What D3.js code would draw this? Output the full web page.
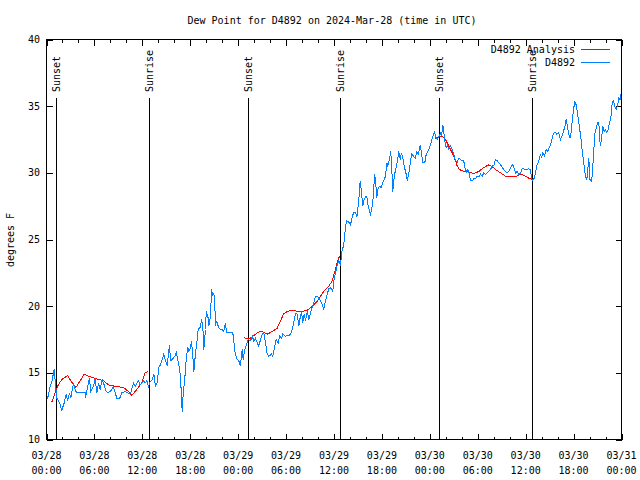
<!DOCTYPE html>
<html><head><meta charset="utf-8">
<script src="https://cdn.jsdelivr.net/npm/d3@7"></script>
<style>
body{margin:0;background:#fff}
svg text{font-family:"DejaVu Sans Mono","Liberation Mono",monospace;font-size:10px;fill:#000}
</style>
</head><body>
<svg id="chart" width="640" height="480"></svg>
<script>
// ---- data (hours after 2024-03-28 00:00 UTC, dew point in F) ----
const obsHours = [0.13,0.46,0.69,0.96,1.13,1.29,1.63,1.92,2.22,2.47,2.63,2.88,3.04,3.38,3.59,3.76,4.26,4.85,4.88,5.17,5.38,5.55,5.89,6.10,6.30,6.51,6.72,6.97,7.22,7.48,7.76,8.18,8.39,8.80,9.14,9.43,9.85,10.27,10.56,10.89,11.11,11.52,11.73,12.15,12.36,12.56,12.77,12.96,13.24,13.44,13.65,13.86,14.06,14.28,14.49,14.69,14.90,15.11,15.31,15.40,15.53,15.74,16.07,16.24,16.44,16.57,16.78,16.91,16.99,17.12,17.32,17.49,17.69,17.82,18.03,18.16,18.32,18.45,18.66,18.87,19.00,19.28,19.41,19.57,19.70,19.91,20.00,20.25,20.32,20.54,20.66,20.82,20.95,21.08,21.16,21.29,21.50,21.66,22.00,22.20,22.41,22.54,23.04,23.33,23.45,23.58,23.79,24.08,24.26,24.38,24.51,24.63,24.83,25.04,25.26,25.55,25.76,25.96,26.17,26.38,26.58,26.80,27.01,27.21,27.42,27.64,27.84,28.17,28.34,28.59,28.76,29.01,29.21,29.43,29.59,29.93,30.34,30.55,30.77,30.97,31.18,31.39,31.59,31.72,31.93,32.09,32.27,32.43,32.65,32.85,33.06,33.27,33.47,33.68,33.90,34.10,34.31,34.52,34.72,34.94,35.15,35.35,35.56,35.69,35.85,35.98,36.19,36.40,36.60,36.81,37.03,37.19,37.32,37.44,37.60,37.85,38.07,38.28,38.48,38.69,38.86,38.98,39.11,39.28,39.41,39.61,39.78,39.95,40.11,40.28,40.45,40.57,40.79,40.95,41.07,41.20,41.36,41.49,41.70,41.91,42.11,42.33,42.45,42.61,42.74,42.95,43.11,43.24,43.36,43.49,43.66,43.86,43.99,44.11,44.29,44.45,44.62,44.83,45.04,45.17,45.29,45.46,45.58,45.74,45.96,46.17,46.37,46.58,46.80,46.96,47.12,47.37,47.55,47.75,47.96,48.17,48.37,48.59,48.80,48.92,49.12,49.34,49.46,49.63,49.75,49.88,50.05,50.21,50.38,50.59,50.80,51.00,51.22,51.43,51.63,51.84,52.05,52.25,52.38,52.56,52.72,52.88,53.09,53.31,53.51,53.72,53.93,54.13,54.35,54.56,54.76,54.97,55.19,55.39,55.60,55.81,56.01,56.22,56.44,56.64,56.85,57.06,57.26,57.48,57.69,57.89,58.10,58.23,58.39,58.57,58.74,58.95,59.15,59.36,59.57,59.77,59.98,60.40,60.61,60.73,60.90,61.07,61.23,61.40,61.65,61.86,61.98,62.15,62.36,62.57,62.77,62.99,63.20,63.33,63.49,63.74,63.90,64.15,64.36,64.53,64.74,64.95,65.08,65.20,65.40,65.58,65.70,65.83,66.03,66.15,66.33,66.45,66.62,66.74,66.96,67.08,67.24,67.37,67.49,67.66,67.78,67.91,68.03,68.21,68.33,68.50,68.66,68.84,69.04,69.16,69.34,69.50,69.66,69.84,70.00,70.16,70.34,70.50,70.66,70.84,71.00,71.16,71.33,71.50,71.66,71.84,71.96];
const obsValues = [13.05,14.0,14.4,15.25,14.1,13.1,12.75,12.2,12.75,13.4,12.9,13.5,13.1,14.25,13.75,13.5,13.5,13.5,13.1,14.0,14.6,13.6,14.0,14.6,13.5,14.25,13.75,14.5,14.1,13.6,13.5,13.75,13.95,13.1,13.05,13.5,13.6,13.45,13.5,14.25,14.0,14.4,14.1,14.4,14.25,14.4,14.0,14.3,14.5,14.9,14.0,14.25,15.4,15.6,16.0,16.4,15.9,15.55,16.6,17.1,15.9,16.0,16.25,16.55,16.0,15.6,14.75,13.0,12.1,13.5,14.6,16.0,16.9,16.6,16.9,17.4,16.25,15.1,16.5,17.5,18.3,18.4,19.0,18.5,16.75,18.25,19.6,19.1,18.5,19.25,21.25,20.75,21.0,20.0,18.5,18.9,18.5,18.3,18.25,18.1,18.75,18.0,18.0,18.0,17.4,16.6,16.1,15.9,15.55,16.1,16.8,16.0,16.75,17.1,17.5,17.4,17.75,17.4,17.6,17.25,17.0,17.5,17.9,18.0,17.25,16.4,16.25,16.4,16.25,17.0,17.5,17.25,17.75,17.6,17.9,17.75,17.8,17.9,18.25,18.8,19.45,19.4,18.5,19.0,19.6,18.75,19.4,18.9,19.6,19.0,19.5,19.9,20.25,20.75,20.75,20.6,20.4,20.1,19.75,20.4,20.9,21.3,21.4,21.25,21.1,21.9,22.5,23.1,23.4,23.1,24.25,24.5,25.1,26.0,26.4,26.3,26.1,26.7,27.05,27.0,26.7,27.25,28.0,29.4,28.75,27.5,28.0,28.2,28.25,27.5,27.1,26.9,27.5,28.4,29.9,29.4,28.1,28.75,29.0,28.9,29.25,29.55,29.75,30.75,30.5,31.0,31.6,30.25,28.6,29.4,30.1,30.6,31.1,31.6,31.0,31.5,31.1,30.4,29.9,29.4,29.75,30.25,30.9,31.4,31.25,31.1,31.6,31.4,32.1,31.5,30.75,30.75,31.4,31.6,31.9,32.25,32.75,33.05,32.6,32.5,32.75,33.0,32.75,33.6,33.0,32.4,31.9,32.1,31.75,32.0,31.75,31.4,30.9,30.8,31.1,31.0,30.9,30.9,30.4,30.05,30.25,30.1,29.4,29.4,29.55,29.55,29.75,29.7,29.9,29.75,30.0,29.9,30.0,30.1,30.25,30.5,30.55,31.0,30.9,30.75,30.6,30.4,30.25,30.1,30.0,30.1,30.4,30.5,30.6,30.3,30.0,30.1,29.9,30.0,30.3,30.3,30.25,30.3,30.25,29.6,29.45,29.6,30.0,30.55,30.9,31.4,31.1,31.5,31.25,31.75,31.6,31.95,32.25,32.6,32.95,33.05,32.9,33.0,32.5,32.75,33.1,33.6,34.05,33.6,32.9,32.6,33.1,33.9,34.9,35.3,35.1,34.6,33.9,33.4,32.4,31.6,30.9,30.3,29.75,29.5,30.3,31.1,29.5,29.4,29.75,31.4,32.9,33.4,33.75,33.75,32.0,32.5,33.5,33.1,33.25,33.0,33.25,33.75,34.1,35.25,35.4,35.0,34.75,35.0,35.6,35.5,36.0];

// analysis series; null marks a gap
const anaHours = [0.66,1.09,1.38,1.92,2.63,3.17,3.67,4.22,4.72,5.47,6.30,7.14,7.76,8.60,9.64,10.27,10.68,11.31,11.93,12.36,12.65,null,24.71,24.92,25.42,26.17,26.67,27.21,27.64,28.26,28.89,29.30,29.72,30.18,30.80,31.43,32.06,32.68,33.31,33.94,34.31,34.72,35.35,35.78,36.10,36.40,36.69,null,48.59,48.71,49.55,49.96,50.38,50.80,51.22,51.43,51.71,52.25,52.88,53.51,54.13,54.76,55.39,55.73,56.22,56.85,57.48,58.10,58.74,59.36,59.77,60.40,60.90];
const anaValues = [12.8,13.5,14.0,14.5,14.8,14.3,13.9,14.4,14.9,14.7,14.55,14.4,14.1,14.0,13.9,13.6,13.3,13.75,14.25,15.0,15.1,null,17.7,17.6,17.55,17.9,18.1,18.05,17.9,18.1,18.35,18.9,19.45,19.6,19.7,19.6,19.6,19.7,20.0,20.4,20.75,21.1,21.5,21.9,22.6,23.25,23.75,null,32.5,32.6,32.75,32.5,32.0,31.5,30.9,30.5,30.25,30.1,30.05,29.95,30.1,30.4,30.6,30.5,30.25,30.0,29.75,29.7,29.7,29.9,29.8,29.6,29.5];

const sunHours = [1.19, 12.84, 25.23, 36.75, 49.09, 60.80];
const sunLabels = ["Sunset","Sunrise","Sunset","Sunrise","Sunset","Sunrise"];
const yTickValues = [10,15,20,25,30,35,40];
const seriesNames = ["D4892 Analysis","D4892"];
const seriesColors = ["#ff0000","#0080ff"];
const titleText = "Dew Point for D4892 on 2024-Mar-28 (time in UTC)";
const yLabel = "degrees F";

// ---- drawing ----
const t0 = Date.UTC(2024,2,28,0,0);
const toDate = h => new Date(t0 + h*3600e3);
const svg = d3.select("#chart");
svg.append("rect").attr("width",640).attr("height",480).attr("fill","#fff");

const L = 46.5, R = 621.5, T = 39.5, B = 439.5;
const x = d3.scaleUtc().domain([toDate(0), toDate(72)]).range([L, R]);
const y = d3.scaleLinear().domain([10, 40]).range([B, T]);

const majorX = d3.utcHour.every(6).range(toDate(0), toDate(72.01));
const minorX = d3.utcHour.every(2).range(toDate(0), toDate(72.01)).filter(d => d.getUTCHours() % 6 !== 0);

function axisGroup(axis, tx, ty){
  const g = svg.append("g").attr("transform",`translate(${tx},${ty})`).call(axis);
  g.select(".domain").remove();
  g.selectAll("line").attr("stroke","#000").attr("shape-rendering","crispEdges");
  return g;
}
axisGroup(d3.axisBottom(x).tickValues(majorX).tickSize(-6).tickFormat(""), 0, B);
axisGroup(d3.axisBottom(x).tickValues(minorX).tickSize(-3).tickFormat(""), 0, B);
axisGroup(d3.axisTop(x).tickValues(majorX).tickSize(-6).tickFormat(""), 0, T);
axisGroup(d3.axisTop(x).tickValues(minorX).tickSize(-3).tickFormat(""), 0, T);
axisGroup(d3.axisLeft(y).tickValues(yTickValues).tickSize(-6).tickFormat(""), L, 0);
axisGroup(d3.axisRight(y).tickValues(yTickValues).tickSize(-6).tickFormat(""), R, 0);

svg.append("g").selectAll("text").data(yTickValues).join("text")
  .attr("x", 40).attr("y", d => y(d)).attr("dy","0.35em")
  .attr("text-anchor","end").text(d => d);

const fmtDay = d3.utcFormat("%m/%d"), fmtTime = d3.utcFormat("%H:%M");
const xl = svg.append("g").selectAll("text").data(majorX).join("text")
  .attr("text-anchor","middle");
xl.append("tspan").attr("x", d => x(d)).attr("y", 459).text(d => fmtDay(d));
xl.append("tspan").attr("x", d => x(d)).attr("y", 474).text(d => fmtTime(d));

const sun = svg.append("g");
sun.selectAll("line").data(sunHours).join("line")
  .attr("x1", d => Math.round(x(toDate(d)))+0.5).attr("x2", d => Math.round(x(toDate(d)))+0.5)
  .attr("y1", 98).attr("y2", B).attr("stroke","#000").attr("stroke-width",1)
  .attr("shape-rendering","crispEdges");
sun.selectAll("text").data(sunHours).join("text")
  .attr("transform", d => `translate(${Math.round(x(toDate(d)))+0.5},92) rotate(-90)`)
  .attr("dy","0.38em").attr("text-anchor","start")
  .text((d,i) => sunLabels[i]);

const ana = anaHours.map((h,i) => ({h, v: anaValues[i]}));
const obs = obsHours.map((h,i) => ({h, v: obsValues[i]}));
const line = d3.line().defined(d => d.h != null && d.v != null)
  .x(d => x(toDate(d.h))).y(d => y(d.v));
svg.append("path").datum(ana).attr("d", line).attr("fill","none")
  .attr("stroke", seriesColors[0]).attr("stroke-width",1).attr("shape-rendering","crispEdges");
svg.append("path").datum(obs).attr("d", line).attr("fill","none")
  .attr("stroke", seriesColors[1]).attr("stroke-width",1).attr("shape-rendering","crispEdges");

svg.append("rect").attr("x",L).attr("y",T).attr("width",R-L).attr("height",B-T)
  .attr("fill","none").attr("stroke","#000").attr("shape-rendering","crispEdges");

const lg = svg.append("g");
seriesNames.forEach((n,i) => {
  const yy = 49 + i*13;
  lg.append("text").attr("x",575).attr("y",yy).attr("dy","0.35em").attr("text-anchor","end").text(n);
  lg.append("line").attr("x1",581).attr("x2",610).attr("y1",yy+0.5).attr("y2",yy+0.5)
    .attr("stroke",seriesColors[i]).attr("stroke-width",1).attr("shape-rendering","crispEdges");
});

svg.append("text").attr("x",332).attr("y",20).attr("dy","0.35em").attr("text-anchor","middle").text(titleText);
svg.append("text").attr("transform","translate(10,240) rotate(-90)").attr("dy","0.35em")
  .attr("text-anchor","middle").text(yLabel);
</script>
</body></html>
